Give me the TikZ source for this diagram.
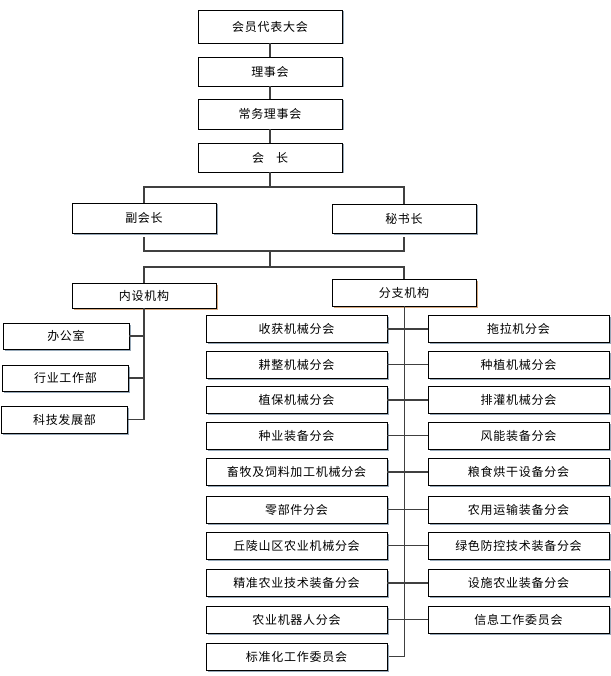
\documentclass[tikz,border=0pt]{standalone}
\usepackage{fontspec}
\usepackage{tikz}
\usetikzlibrary{shadows}
\newfontfamily\cjk[LetterSpace=6]{Noto Sans CJK SC}
\definecolor{edgegray}{RGB}{64, 64, 64}
\definecolor{slateshade}{RGB}{150, 168, 184}
\definecolor{tanshade}{RGB}{214, 168, 126}

\tikzset{
  orgbox/.style={draw=black, line width=0.8pt, fill=white, inner sep=0pt,
                 font=\cjk\fontsize{12}{14}\selectfont,
                 drop shadow={shadow xshift=1.5pt, shadow yshift=-1.5pt, fill=slateshade, opacity=1}},
  groupbox/.style={orgbox, minimum width=144pt,
                 drop shadow={shadow xshift=1.5pt, shadow yshift=-1.5pt, fill=tanshade, opacity=1}},
  headbox/.style={orgbox, minimum width=144pt, minimum height=29pt},
  deptbox/.style={orgbox, minimum width=126pt, minimum height=26pt},
  branchbox/.style={orgbox, minimum width=181pt, minimum height=27pt},
  link/.style={draw=edgegray, line width=1.3pt}
}

\begin{document}
\begin{tikzpicture}[x=1pt, y=-1pt]
            % Frame to ensure alignment:
            \useasboundingbox (0,0) rectangle (610,676);
            % Top chain
            \node[headbox, minimum height=33pt] (meeting)  at (270, 26.5) {会员代表大会};
            \node[headbox]                      (council)  at (270, 71.5) {理事会};
            \node[headbox, minimum height=30pt] (standing) at (270,114.0) {常务理事会};
            \node[headbox]                      (chair)    at (270,157.5) {会\hspace{1em}长};
            \node[headbox, minimum height=30pt] (vicechair) at (144,218.0) {副会长};
            \node[headbox]                      (secretary) at (404,218.5) {秘书长};
            \node[groupbox, minimum height=25pt] (internal) at (144,295.5) {内设机构};
            \node[groupbox, minimum height=27pt] (branch)   at (404,292.5) {分支机构};
            \draw[link] (meeting) -- (council) -- (standing) -- (chair);
            \coordinate (split)  at (270,187);
            \coordinate (merge)  at (270,251);
            \coordinate (fork)   at (270,267);
            \draw[link] (chair.south) -- (split) -| (vicechair.north);
            \draw[link] (split) -| (secretary.north);
            \draw[link, shorten <=4pt] (vicechair.south) |- (merge);
            \draw[link, shorten <=4pt] (secretary.south) |- (merge);
            \draw[link] (merge) -- (fork) -| (internal.north);
            \draw[link] (fork) -| (branch.north);
            % Internal departments
            \node[deptbox]                      (office)   at ( 66,336.0) {办公室};
            \node[deptbox]                      (industry) at ( 65.5,378.0) {行业工作部};
            \node[deptbox, minimum height=27pt] (science)  at ( 64.5,419.5) {科技发展部};
            \draw[link] (internal.south) |- (science.east);
            \draw[link] (office.east)   -- (office.east -| internal.south);
            \draw[link] (industry.east) -- (industry.east -| internal.south);
            % Branch societies
            \draw[link, line width=0.9pt] (branch.south) -- (branch.south |- 0,656.5) -- (387,656.5);
            \foreach \name/\left/\right/\y in {
                  harvest/收获机械分会/拖拉机分会/329.0,
                  tillage/耕整机械分会/种植机械分会/364.5,
                  protect/植保机械分会/排灌机械分会/400.0,
                  seed/种业装备分会/风能装备分会/435.5,
                  feed/畜牧及饲料加工机械分会/粮食烘干设备分会/472.0,
                  parts/零部件分会/农用运输装备分会/509.5,
                  hills/丘陵山区农业机械分会/绿色防控技术装备分会/545.5,
                  precise/精准农业技术装备分会/设施农业装备分会/583.0,
                  robot/农业机器人分会/信息工作委员会/619.5}{
                \node[branchbox] (\name L) at (296.5,\y) {\left};
                \node[branchbox] (\name R) at (518.5,\y) {\right};
                \draw[link] (\name L.east) -- (\name R.west);
            }
            \node[branchbox] (standard) at (296.5,656.5) {标准化工作委员会};
\end{tikzpicture}
\end{document}
